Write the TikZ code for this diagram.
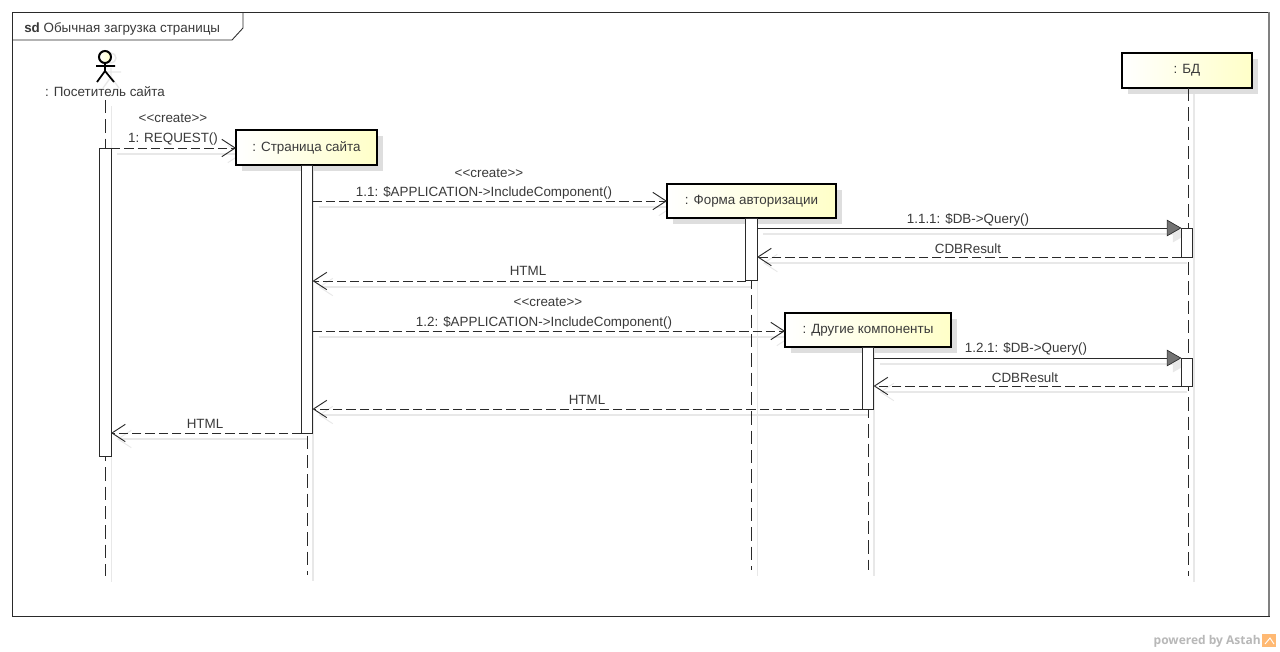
\documentclass[tikz,border=0pt]{standalone}
\usepackage{fontspec}
\setmainfont{Liberation Sans}
\newfontfamily\astahfont{Open Sans}
\usetikzlibrary{arrows.meta,backgrounds}
\definecolor{ink}{HTML}{2A2A2A}
\definecolor{txt}{HTML}{3A3A3A}
\definecolor{shad}{HTML}{DEDEDE}
\definecolor{shadline}{HTML}{E8E8E8}
\definecolor{paleyellow}{HTML}{FFFFC8}
\tikzset{
  x=0.75pt,y=-0.75pt,
  lbl/.style={font=\fontsize{10.05pt}{12pt}\selectfont,text=txt,inner sep=0pt,anchor=base},
  obj/.style={draw=black,line width=2.1pt,left color=white,right color=paleyellow,
    inner sep=0pt,outer sep=0pt,font=\fontsize{10.05pt}{12pt}\selectfont,text=txt},
  bar/.style={draw=ink,line width=0.7pt,fill=white,inner sep=0pt,outer sep=0pt,minimum width=8.4pt},
  life/.style={draw=ink,line width=0.75pt,dash pattern=on 10pt off 4.5pt},
  lifeshadow/.style={draw=shadline,line width=0.8pt},
  boxshadow/.style={fill=shad,draw=none},
  dashmsg/.style={draw=ink,line width=0.7pt,dash pattern=on 7pt off 3pt,-{Straight Barb[length=10pt,width=13pt,line width=0.7pt]}},
  callmsg/.style={draw=ink,line width=0.7pt,-{Triangle[length=11pt,width=12.5pt,fill=black!55,color=ink,line width=0.5pt]}},
  dashshadow/.style={draw=shadline,line width=0.8pt,-{Straight Barb[length=10pt,width=13pt,line width=0.7pt]}},
  callshadow/.style={draw=shadline,line width=0.8pt,-{Triangle[length=11pt,width=12.5pt,fill=shadline,color=shadline]}},
}
% style, shadow style, from, to, level
\newcommand{\msgline}[5]{%
  \draw[#1] (#3 |- #5) -- (#4 |- #5);
  \begin{pgfonlayer}{background}
    \draw[#2,transform canvas={shift={(4.5pt,-4.5pt)}}] (#3 |- #5) -- (#4 |- #5);
  \end{pgfonlayer}}
% object box: name, x0, y0, x1, y1, text
\newcommand{\objbox}[6]{%
  \begin{pgfonlayer}{background}
    \fill[boxshadow] (#2+6,#3+6) rectangle (#4+6,#5+6);
  \end{pgfonlayer}
  \node[obj,minimum width=#4*0.75pt-#2*0.75pt,minimum height=#5*0.75pt-#3*0.75pt] (#1) at ({(#2+#4)/2},{(#3+#5)/2}) {#6};}
% activation bar: name, x, y0, y1
\newcommand{\actbar}[4]{%
  \node[bar,minimum height=#4*0.75pt-#3*0.75pt] (#1) at (#2,{(#3+#4)/2}) {};}
% lifeline: from, end coordinate
\newcommand{\lifeline}[2]{%
  \draw[life] (#1) -- (#1 |- #2);
  \begin{pgfonlayer}{background}
    \draw[lifeshadow,transform canvas={shift={(4.5pt,-4.5pt)}}] (#1) -- (#1 |- #2);
  \end{pgfonlayer}}
\begin{document}
\begin{tikzpicture}
\useasboundingbox (0,0) rectangle (1280,651);
\begin{pgfonlayer}{background}
  \fill[white] (0,0) rectangle (1280,651);
\end{pgfonlayer}

% frame
\coordinate (fa) at (12,12);
\coordinate (fb) at (1269,616);
\draw[draw=ink,line width=0.65pt] (fa) rectangle (fb);
\draw[draw=gray,line width=1pt] (fb) -- (fb |- fa);
\coordinate (t1) at (243,12);
\coordinate (t2) at (243,28);
\coordinate (t3) at (232,40);
\coordinate (t4) at (12,40);
\draw[draw=ink,line width=0.65pt] (t1) -- (t2) -- (t3) -- (t4);
\node[lbl,anchor=base west] (title) at (24,32) {\textbf{sd} Обычная загрузка страницы};

% level coordinates
\coordinate (le1) at (0,576);
\coordinate (le2) at (0,575);
\coordinate (le3) at (0,570);
\foreach \n/\y in {m1/148,m2/201,m3/228,m4/257,m5/281,m6/331,m7/358,m8/386,m9/409,m10/433}
  \coordinate (\n) at (0,\y);

% actor
\begin{pgfonlayer}{background}
  \draw[draw=shadline,line width=1pt] (111,58) circle (5) (111,68) -- (111,77) (103,72) -- (121,72) (103,88) -- (111,77) -- (119,88);
\end{pgfonlayer}
\node[circle,draw=black,line width=1.5pt,left color=white,right color=paleyellow,minimum size=9pt,inner sep=0pt,outer sep=0pt] (head) at (105,57) {};
\coordinate (hip) at (105,71);
\coordinate (armL) at (96,66);
\coordinate (armR) at (115,66);
\coordinate (legL) at (97,82);
\coordinate (legR) at (114,82);
\draw[draw=black,line width=1.3pt] (head) -- (hip) (armL) -- (armR) (legL) -- (hip) -- (legR);
\node[lbl] (actor) at (105,96) {: Посетитель сайта};
\coordinate (actorfoot) at (105.5,100);

% lifelines
\objbox{p2}{236}{130}{377}{165}{: Страница сайта}
\objbox{p3}{667}{184}{836}{218}{: Форма авторизации}
\objbox{p4}{785}{313}{951}{347}{: Другие компоненты}
\objbox{p5}{1122}{53}{1252}{88}{: БД}
\coordinate (l2) at (307,165);
\coordinate (l3) at (751.5,218);
\coordinate (l4) at (868,347);
\coordinate (l5) at (1188,88);
\lifeline{actorfoot}{le1}
\lifeline{l2}{le2}
\lifeline{l3}{le3}
\lifeline{l4}{le3}
\lifeline{l5}{le1}

% activations
\actbar{a1}{105.5}{148}{456}
\actbar{a2}{307}{165}{433}
\actbar{a3}{751.5}{218}{280}
\actbar{a4}{868}{347}{409}
\actbar{a5}{1187}{228}{257}
\actbar{a6}{1187}{358}{386}

% messages
\msgline{dashmsg}{dashshadow}{a1.east}{p2.west}{m1}
\msgline{dashmsg}{dashshadow}{a2.east}{p3.west}{m2}
\msgline{callmsg}{callshadow}{a3.east}{a5.west}{m3}
\msgline{dashmsg}{dashshadow}{a5.west}{a3.east}{m4}
\msgline{dashmsg}{dashshadow}{a3.west}{a2.east}{m5}
\msgline{dashmsg}{dashshadow}{a2.east}{p4.west}{m6}
\msgline{callmsg}{callshadow}{a4.east}{a6.west}{m7}
\msgline{dashmsg}{dashshadow}{a6.west}{a4.east}{m8}
\msgline{dashmsg}{dashshadow}{a4.west}{a2.east}{m9}
\msgline{dashmsg}{dashshadow}{a2.west}{a1.east}{m10}

% labels
\node[lbl] (c1) at (173,122) {<{}<create>{}>};
\node[lbl] (t1a) at (173,142) {1: REQUEST()};
\node[lbl] (c2) at (489,177) {<{}<create>{}>};
\node[lbl] (t2a) at (484,196) {1.1: \$APPLICATION->IncludeComponent()};
\node[lbl] (t3a) at (968,223) {1.1.1: \$DB->Query()};
\node[lbl] (t4a) at (968,253) {CDBResult};
\node[lbl] (t5a) at (528,275) {HTML};
\node[lbl] (c3) at (548,306) {<{}<create>{}>};
\node[lbl] (t6a) at (544,326) {1.2: \$APPLICATION->IncludeComponent()};
\node[lbl] (t7a) at (1026,352) {1.2.1: \$DB->Query()};
\node[lbl] (t8a) at (1025,382) {CDBResult};
\node[lbl] (t9a) at (587,404) {HTML};
\node[lbl] (t10a) at (205,428) {HTML};

% footer
\node[anchor=base east,inner sep=0pt,text=black!28,font=\astahfont\bfseries\fontsize{9pt}{11pt}\selectfont] (astah) at (1261,644) {powered by Astah};
\fill[orange!55] (1262,634) rectangle (1276,647);
\draw[white,line width=0.7pt] (1265,644) -- (1270,638) -- (1274,644);
\end{tikzpicture}
\end{document}
